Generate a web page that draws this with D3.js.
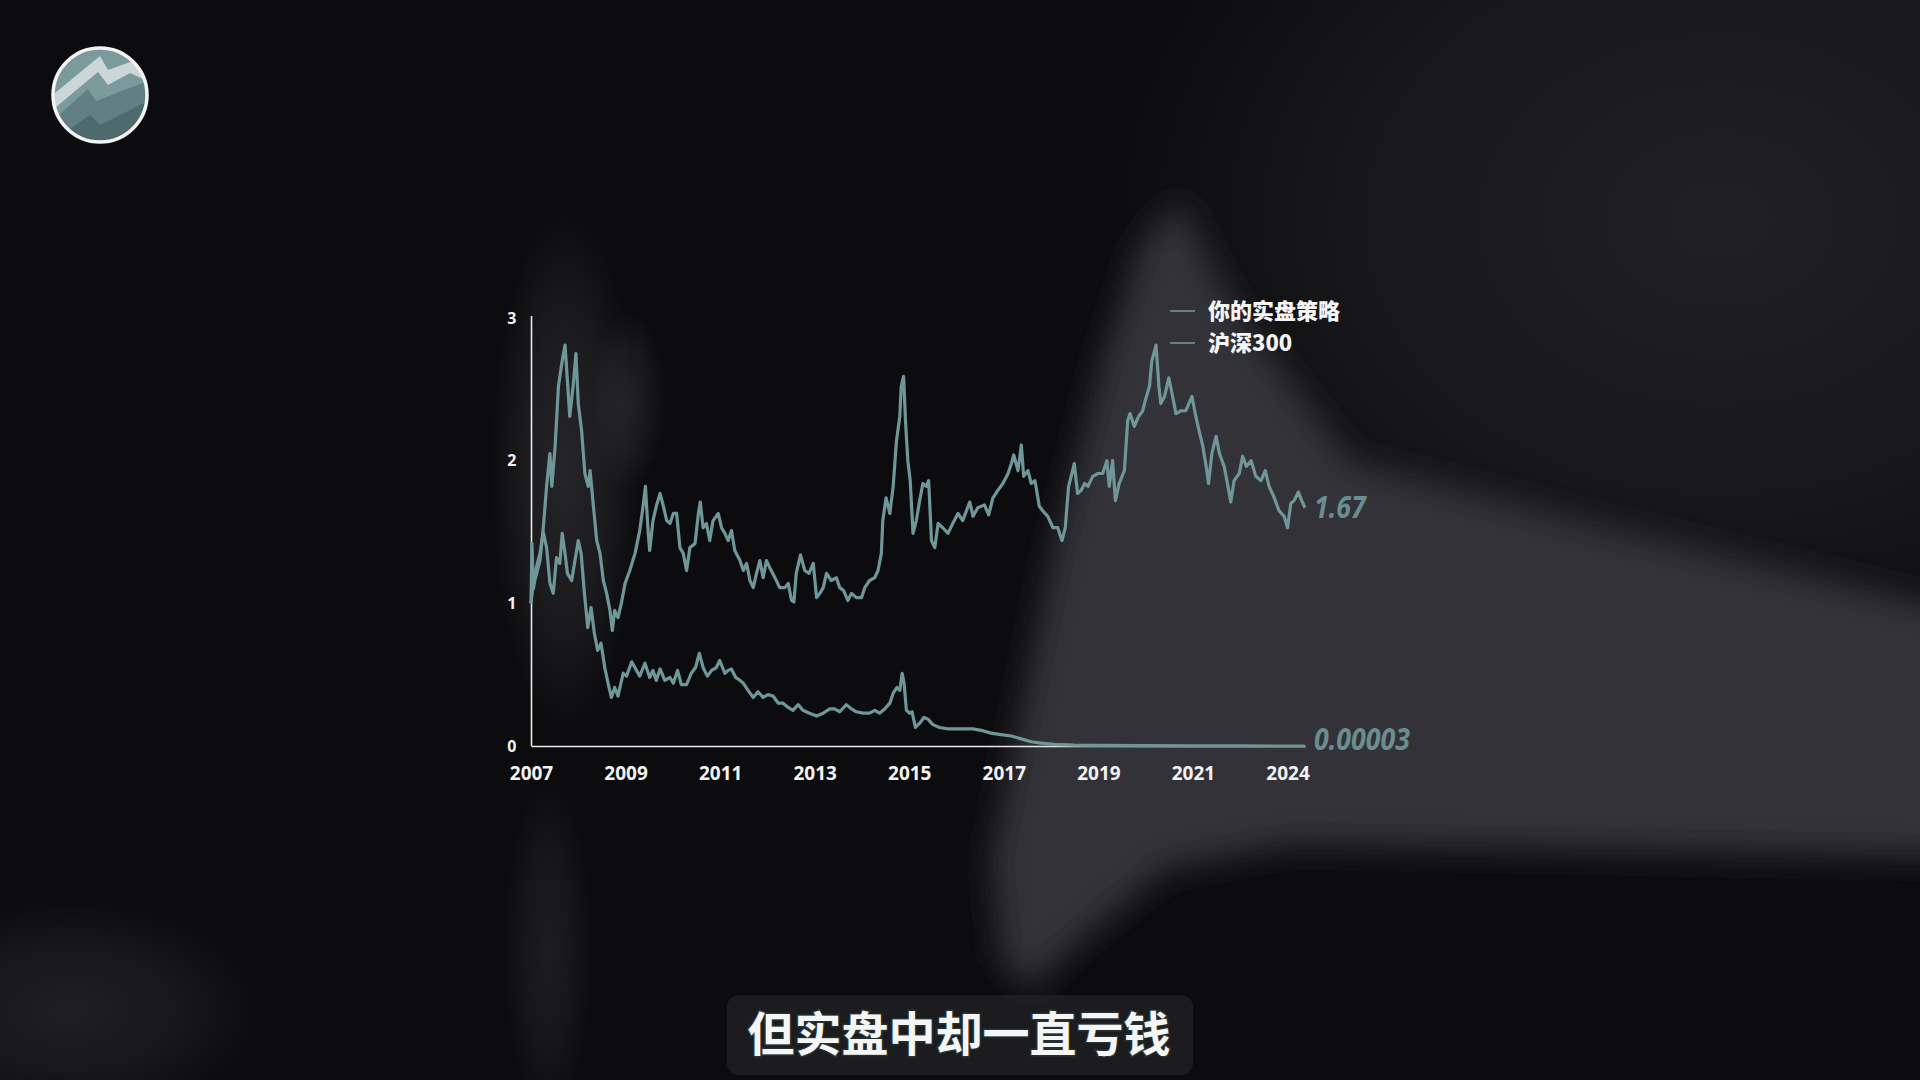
<!DOCTYPE html>
<html><head><meta charset="utf-8">
<script src="https://cdn.jsdelivr.net/npm/d3@7"></script>
<style>
html,body{margin:0;padding:0;background:#0c0c0e;overflow:hidden;}
svg{display:block}
</style></head><body>
<svg id="c" width="1920" height="1080"></svg>
<script>
// ---------- data ----------
const seriesNames = ["你的实盘策略", "沪深300"];
const endLabels = ["0.00003", "1.67"];
const yTicks = [0, 1, 2, 3];
const xTickYears = [2007, 2009, 2011, 2013, 2015, 2017, 2019, 2021, 2023];
const xTickLabels = ["2007", "2009", "2011", "2013", "2015", "2017", "2019", "2021", "2024"];
const subtitle = "但实盘中却一直亏钱";

const csiYears = [2007.00,2007.02,2007.05,2007.08,2007.19,2007.26,2007.33,2007.40,2007.44,2007.51,2007.58,2007.65,2007.72,2007.77,2007.82,2007.89,2007.95,2008.00,2008.07,2008.14,2008.21,2008.25,2008.32,2008.39,2008.46,2008.53,2008.60,2008.67,2008.72,2008.77,2008.84,2008.91,2008.99,2009.09,2009.20,2009.30,2009.37,2009.42,2009.48,2009.51,2009.58,2009.65,2009.73,2009.80,2009.87,2009.94,2010.01,2010.08,2010.15,2010.22,2010.29,2010.36,2010.47,2010.54,2010.58,2010.64,2010.71,2010.78,2010.85,2010.96,2011.03,2011.10,2011.17,2011.24,2011.31,2011.42,2011.49,2011.56,2011.63,2011.70,2011.77,2011.84,2011.91,2011.98,2012.05,2012.16,2012.26,2012.37,2012.44,2012.51,2012.56,2012.61,2012.70,2012.79,2012.88,2012.97,2013.04,2013.11,2013.18,2013.25,2013.35,2013.46,2013.53,2013.61,2013.70,2013.78,2013.88,2013.99,2014.06,2014.16,2014.27,2014.34,2014.41,2014.44,2014.51,2014.59,2014.66,2014.73,2014.80,2014.83,2014.88,2014.92,2014.97,2015.02,2015.08,2015.15,2015.22,2015.29,2015.36,2015.41,2015.47,2015.54,2015.61,2015.71,2015.82,2015.92,2016.03,2016.13,2016.28,2016.35,2016.45,2016.59,2016.68,2016.77,2016.87,2016.98,2017.09,2017.16,2017.21,2017.30,2017.37,2017.42,2017.51,2017.58,2017.66,2017.75,2017.82,2017.93,2018.04,2018.14,2018.23,2018.30,2018.37,2018.44,2018.49,2018.56,2018.63,2018.71,2018.78,2018.88,2018.99,2019.09,2019.18,2019.23,2019.30,2019.36,2019.44,2019.55,2019.62,2019.67,2019.76,2019.85,2019.94,2019.99,2020.08,2020.13,2020.22,2020.28,2020.32,2020.40,2020.49,2020.57,2020.64,2020.75,2020.85,2020.98,2021.06,2021.13,2021.21,2021.28,2021.33,2021.40,2021.49,2021.56,2021.66,2021.73,2021.80,2021.87,2021.98,2022.05,2022.13,2022.23,2022.33,2022.44,2022.53,2022.61,2022.72,2022.82,2022.93,2023.00,2023.07,2023.14,2023.23,2023.30,2023.37];
const csiValues = [1.00,1.42,1.10,1.16,1.30,1.53,1.82,2.05,1.82,2.10,2.52,2.68,2.81,2.56,2.31,2.52,2.75,2.40,2.21,1.91,1.82,1.93,1.68,1.44,1.35,1.16,1.07,0.95,0.81,0.95,0.90,1.00,1.14,1.23,1.35,1.51,1.68,1.82,1.49,1.37,1.58,1.68,1.77,1.68,1.58,1.56,1.63,1.63,1.39,1.35,1.23,1.39,1.42,1.63,1.71,1.53,1.56,1.44,1.58,1.63,1.53,1.49,1.44,1.51,1.37,1.30,1.23,1.28,1.16,1.11,1.21,1.30,1.18,1.30,1.25,1.18,1.11,1.11,1.14,1.02,1.01,1.21,1.34,1.23,1.21,1.28,1.04,1.07,1.11,1.21,1.16,1.18,1.11,1.09,1.02,1.07,1.04,1.04,1.11,1.16,1.18,1.23,1.35,1.58,1.74,1.63,1.82,2.14,2.31,2.52,2.59,2.28,2.00,1.86,1.49,1.58,1.72,1.84,1.82,1.86,1.44,1.39,1.56,1.53,1.49,1.56,1.63,1.58,1.71,1.61,1.67,1.69,1.62,1.74,1.79,1.84,1.91,1.98,2.04,1.93,2.11,1.89,1.93,1.84,1.86,1.68,1.65,1.61,1.53,1.53,1.44,1.53,1.82,1.91,1.98,1.77,1.79,1.84,1.82,1.89,1.91,1.91,2.00,1.82,2.00,1.72,1.84,1.93,2.28,2.33,2.24,2.31,2.35,2.42,2.52,2.70,2.81,2.52,2.40,2.45,2.58,2.45,2.33,2.35,2.35,2.45,2.31,2.21,2.10,1.96,1.84,2.05,2.17,2.05,1.96,1.84,1.71,1.86,1.91,2.03,1.96,2.00,1.89,1.86,1.93,1.82,1.74,1.65,1.61,1.53,1.70,1.72,1.78,1.72,1.67];

const strategyYears = [2007.00,2007.04,2007.08,2007.19,2007.26,2007.33,2007.40,2007.47,2007.54,2007.61,2007.66,2007.72,2007.77,2007.86,2007.93,2008.00,2008.06,2008.13,2008.20,2008.27,2008.34,2008.41,2008.48,2008.56,2008.63,2008.70,2008.77,2008.84,2008.95,2009.02,2009.13,2009.23,2009.30,2009.41,2009.51,2009.58,2009.65,2009.73,2009.83,2009.94,2010.01,2010.10,2010.18,2010.29,2010.39,2010.48,2010.56,2010.64,2010.73,2010.82,2010.92,2010.99,2011.10,2011.17,2011.24,2011.33,2011.42,2011.49,2011.59,2011.70,2011.80,2011.91,2012.01,2012.12,2012.23,2012.33,2012.44,2012.54,2012.65,2012.75,2012.89,2013.04,2013.18,2013.32,2013.42,2013.53,2013.67,2013.78,2013.88,2014.02,2014.16,2014.27,2014.37,2014.48,2014.59,2014.66,2014.74,2014.80,2014.85,2014.89,2014.94,2015.01,2015.06,2015.13,2015.22,2015.31,2015.39,2015.50,2015.64,2015.82,2015.96,2016.13,2016.35,2016.52,2016.73,2016.94,2017.16,2017.37,2017.58,2017.79,2018.07,2018.49,2018.92,2020.00,2021.00,2022.00,2023.37];
const strategyValues = [1.00,1.12,1.21,1.35,1.50,1.39,1.14,1.07,1.32,1.28,1.49,1.35,1.21,1.16,1.30,1.44,1.35,1.07,0.83,0.97,0.79,0.67,0.72,0.55,0.44,0.34,0.41,0.35,0.51,0.49,0.59,0.53,0.49,0.58,0.48,0.53,0.46,0.54,0.46,0.48,0.44,0.53,0.43,0.43,0.51,0.55,0.65,0.55,0.49,0.53,0.55,0.60,0.51,0.53,0.54,0.48,0.46,0.44,0.39,0.34,0.38,0.34,0.36,0.35,0.30,0.30,0.27,0.25,0.29,0.25,0.23,0.21,0.23,0.26,0.26,0.24,0.29,0.26,0.24,0.23,0.23,0.25,0.23,0.26,0.30,0.37,0.41,0.39,0.51,0.44,0.25,0.23,0.24,0.13,0.16,0.20,0.19,0.15,0.13,0.12,0.12,0.12,0.12,0.11,0.09,0.08,0.07,0.05,0.03,0.02,0.012,0.006,0.004,0.002,0.0008,0.0002,0.00003];

// ---------- setup ----------
const W = 1920, H = 1080;
const svg = d3.select("#c");
const defs = svg.append("defs");
const LINE = "#6f9698";

// background helpers
defs.append("filter").attr("id","blurMed").attr("x","-20%").attr("y","-20%").attr("width","140%").attr("height","140%")
  .append("feGaussianBlur").attr("stdDeviation", 16);
function radial(id, color, opacity){
  const g = defs.append("radialGradient").attr("id",id);
  g.append("stop").attr("offset","0%").attr("stop-color",color).attr("stop-opacity",opacity);
  g.append("stop").attr("offset","55%").attr("stop-color",color).attr("stop-opacity",opacity*0.6);
  g.append("stop").attr("offset","100%").attr("stop-color",color).attr("stop-opacity",0);
}
radial("gHaze", "#242428", 0.85);
radial("gCol", "#3a3a3f", 0.55);
radial("gCol2", "#3a3a3f", 0.45);
radial("gLow", "#2e2e33", 0.5);
radial("gBL", "#2c2c30", 0.6);

svg.append("rect").attr("width",W).attr("height",H).attr("fill","#0c0c0e");
const bg = svg.append("g");
// dim upper right haze
bg.append("ellipse").attr("cx",1720).attr("cy",220).attr("rx",620).attr("ry",480).attr("fill","url(#gHaze)");
// main grey region
bg.append("path").attr("d","M1180,200 L1230,300 L1350,460 L1600,525 L1960,610 L1960,858 L1290,846 L1165,870 L1070,950 L1030,990 L1000,960 L990,860 L1015,735 L1052,552 L1100,365 L1140,245 Z")
  .attr("fill","#333337").attr("filter","url(#blurMed)");
// hazy column near y-axis
bg.append("ellipse").attr("cx",565).attr("cy",470).attr("rx",75).attr("ry",260).attr("fill","url(#gCol)");
bg.append("ellipse").attr("cx",628).attr("cy",400).attr("rx",38).attr("ry",90).attr("fill","url(#gCol2)");
bg.append("ellipse").attr("cx",548).attr("cy",950).attr("rx",45).attr("ry",170).attr("fill","url(#gLow)");
bg.append("ellipse").attr("cx",70).attr("cy",1010).attr("rx",190).attr("ry",110).attr("fill","url(#gBL)");

// ---------- scales ----------
const x = d3.scaleLinear().domain([2007, 2023.37]).range([531, 1305]);
const y = d3.scaleLinear().domain([0, 3]).range([746, 318]);

// axes
const yAxis = svg.append("g").attr("transform","translate(531.5,0)")
  .call(d3.axisLeft(y).tickValues(yTicks).tickSize(0).tickSizeOuter(0).tickPadding(15).tickFormat(d3.format("d")));
yAxis.select(".domain").attr("stroke","#e8e8e8").attr("stroke-width",1.6).attr("d","M0,316V746");
yAxis.selectAll("text").attr("fill","#f2f2f2").style("font-family","'Noto Sans', sans-serif")
  .style("font-weight",700).style("font-size","16px");

const xAxis = svg.append("g").attr("transform","translate(0,746)")
  .call(d3.axisBottom(x).tickValues(xTickYears).tickSize(0).tickSizeOuter(0).tickPadding(21)
    .tickFormat((d,i) => xTickLabels[i]));
xAxis.select(".domain").attr("stroke","#e8e8e8").attr("stroke-width",1.6);
xAxis.selectAll("text").attr("fill","#f2f2f2").style("font-family","'Noto Sans', sans-serif")
  .style("font-weight",700).style("font-size","19px");

// ---------- lines ----------
const csi = csiYears.map((t,i)=>({t, v:csiValues[i]}));
const strat = strategyYears.map((t,i)=>({t, v:strategyValues[i]}));
const line = d3.line().x(d=>x(d.t)).y(d=>y(d.v));

svg.append("path").datum(strat).attr("d",line).attr("fill","none")
  .attr("stroke",LINE).attr("stroke-width",3.2).attr("stroke-linejoin","round");
svg.append("path").datum(csi).attr("d",line).attr("fill","none")
  .attr("stroke",LINE).attr("stroke-width",3.2).attr("stroke-linejoin","round");

// end labels
const endFont = "'Noto Sans', sans-serif";
function endLabel(d, txt, dy){
  const gx = x(d.t) + 9, gy = y(d.v) + dy;
  svg.append("text").attr("transform",`translate(${gx},${gy}) scale(0.89,1)`)
    .attr("dy","0.35em").attr("fill","#6a8e90")
    .style("font-family",endFont).style("font-style","italic").style("font-weight",700)
    .style("font-size","30px").text(txt);
}
endLabel(strat[strat.length-1], endLabels[0], -7);
endLabel(csi[csi.length-1], endLabels[1], 0);

// legend
const legend = svg.append("g").attr("transform","translate(1170,311)");
seriesNames.forEach((name,i)=>{
  const g = legend.append("g").attr("transform",`translate(0,${i*32})`);
  g.append("line").attr("x1",0).attr("x2",25).attr("y1",0).attr("y2",0)
    .attr("stroke",LINE).attr("stroke-width",1.6);
  g.append("text").attr("x",38).attr("dy","0.36em").attr("fill","#f4f4f4")
    .style("font-family","'Noto Sans CJK SC', sans-serif").style("font-weight",900)
    .style("font-size","22px").text(name);
});

// ---------- logo ----------
const logo = svg.append("g").attr("transform","translate(100,95)");
defs.append("clipPath").attr("id","logoClip").append("circle").attr("r",47);
const lg = logo.append("g").attr("clip-path","url(#logoClip)");
lg.append("rect").attr("x",-50).attr("y",-50).attr("width",100).attr("height",100).attr("fill","#7a9a9b");
lg.append("path").attr("d","M-45,-2 L0,-39 L8,-25 L30,-33 L45,-28 L45,-15 L30,-22 L8,-10 L-2,-23 L-45,13 Z")
  .attr("fill","#d9e2e2").attr("opacity",0.85);
lg.append("path").attr("d","M-50,28 L-12,-6 L-4,6 L50,-15 L50,50 L-50,50 Z")
  .attr("fill","#4f6c6e").attr("opacity",0.55);
lg.append("path").attr("d","M-50,48 L-10,20 L0,30 L50,5 L50,50 Z")
  .attr("fill","#3b5456").attr("opacity",0.5);
logo.append("circle").attr("r",47).attr("fill","none").attr("stroke","#f3f3f3").attr("stroke-width",3.5);

// ---------- subtitle ----------
svg.append("rect").attr("x",727).attr("y",995).attr("width",466).attr("height",80).attr("rx",12)
  .attr("fill","#2a2a2e").attr("opacity",0.55);
svg.append("text").attr("x",959).attr("y",1034).attr("dy","0.36em").attr("text-anchor","middle")
  .attr("fill","#f5f5f5").attr("stroke","#223030").attr("stroke-width",3).attr("paint-order","stroke")
  .style("font-family","'Noto Sans CJK SC', sans-serif").style("font-weight",700)
  .style("font-size","47px").text(subtitle);
</script>
</body></html>
